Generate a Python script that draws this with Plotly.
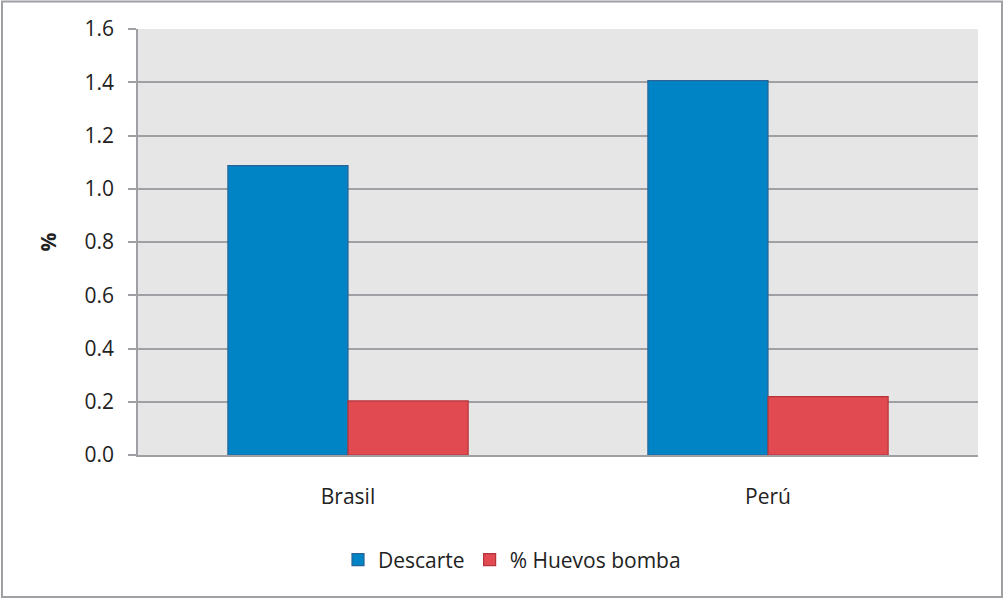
import plotly.graph_objects as go

categories = ["Brasil", "Perú"]
descarte = [1.087, 1.406]
huevos_bomba = [0.203, 0.219]
series_names = ["Descarte", "% Huevos bomba"]
y_ticks = [0.0, 0.2, 0.4, 0.6, 0.8, 1.0, 1.2, 1.4, 1.6]

W, H = 1005, 599
ml, mr, mt, mb = 138, 27, 29, 144
pw, ph = W - ml - mr, H - mt - mb

def px_to_paper_x(px):
    return (px - ml) / pw

def px_to_paper_y(py):
    return (H - mb - py) / ph

fig = go.Figure()
fig.add_trace(go.Bar(x=categories, y=descarte, name=series_names[0],
                     marker=dict(color="#0084C6", line=dict(color="#2A6496", width=1.2))))
fig.add_trace(go.Bar(x=categories, y=huevos_bomba, name=series_names[1],
                     marker=dict(color="#E24A52", line=dict(color="#B5343C", width=1.2))))

font_family = "Open Sans, Lato, sans-serif"
fs = 21
fig.update_layout(
    width=W, height=H,
    margin=dict(l=ml, r=mr, t=mt, b=mb),
    paper_bgcolor="white",
    plot_bgcolor="#E6E6E6",
    barmode="group",
    bargap=0.428,
    bargroupgap=0,
    font=dict(family=font_family, size=fs, color="#222222"),
    showlegend=True,
    legend=dict(orientation="h", x=px_to_paper_x(512), xanchor="center", y=px_to_paper_y(560), yanchor="middle",
                font=dict(size=fs, color="#222222"), itemwidth=30, traceorder="normal",
                bgcolor="rgba(0,0,0,0)"),
    xaxis=dict(showline=True, linecolor="#A0A0A4", linewidth=1.5, showgrid=False,
               ticks="", tickfont=dict(size=fs), ticklabelstandoff=22, fixedrange=True),
    yaxis=dict(range=[0, 1.6], tickvals=y_ticks, tickformat=".1f",
               showline=True, linecolor="#A0A0A4", linewidth=1.5,
               showgrid=True, gridcolor="#A0A0A4", gridwidth=1.5,
               ticks="outside", ticklen=8, tickcolor="#A0A0A4", tickwidth=1.5,
               tickfont=dict(size=fs), ticklabelstandoff=10, zeroline=False,
               title=dict(text="<b>%</b>", font=dict(size=fs), standoff=22)),
)

fig.add_shape(type="rect", xref="paper", yref="paper",
              x0=px_to_paper_x(2), x1=px_to_paper_x(1002),
              y0=px_to_paper_y(597), y1=px_to_paper_y(1.5),
              line=dict(color="#A0A0A4", width=2), fillcolor="rgba(0,0,0,0)", layer="above")

fig.write_html("out.html")
